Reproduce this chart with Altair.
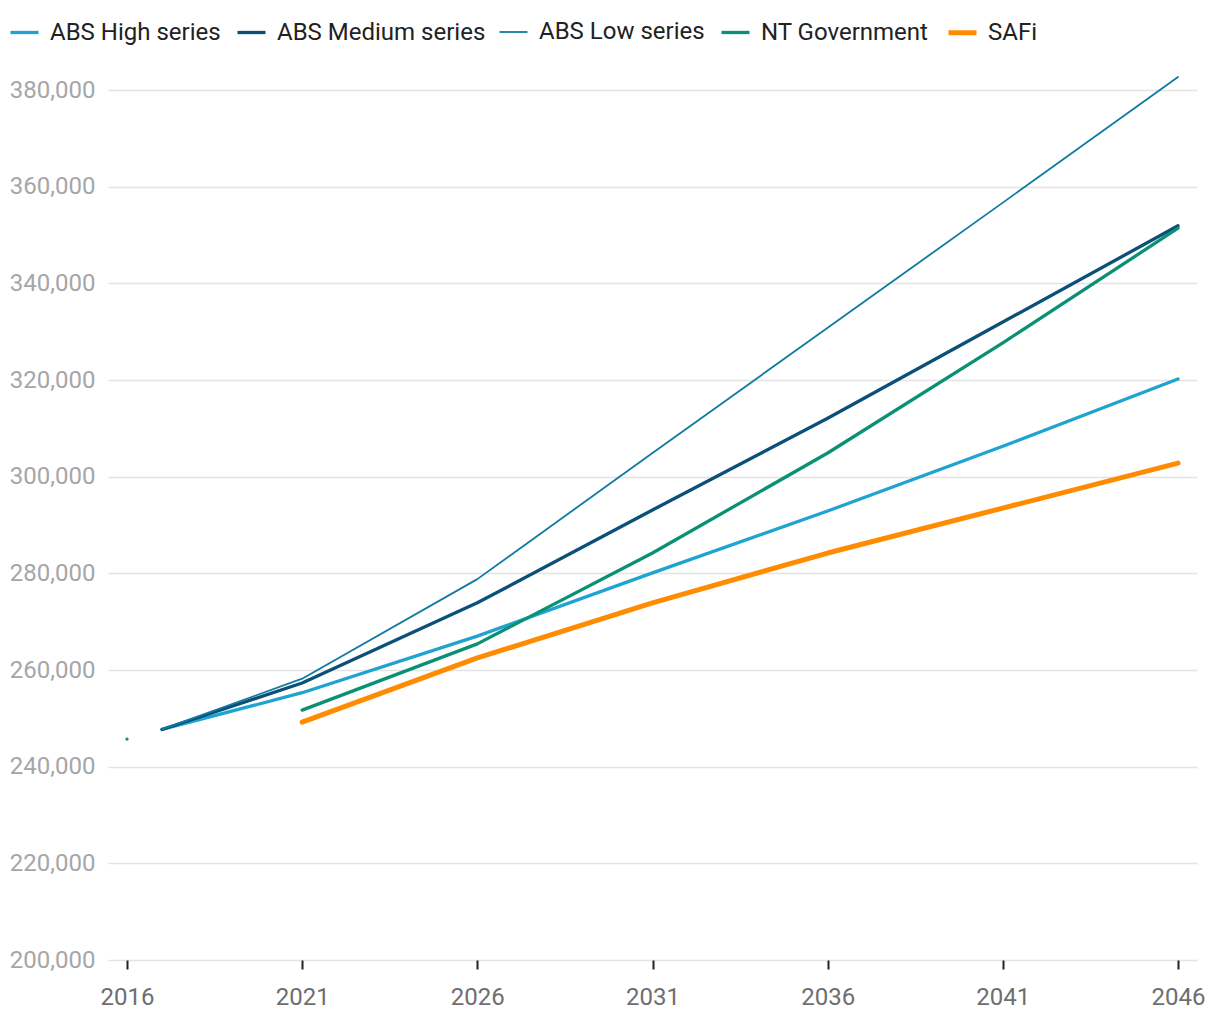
import altair as alt
import pandas as pd

series_names = ["ABS High series", "ABS Medium series", "ABS Low series", "NT Government", "SAFi"]
series_colors = ["#1ea3d2", "#0b5078", "#107aa3", "#0a9174", "#ff8c00"]
series_widths = [3.3, 3.3, 1.8, 3.3, 5]

abs_years = [2017, 2021, 2026, 2031, 2036, 2041, 2046]
abs_high = [247700, 255300, 267000, 280100, 292900, 306300, 320200]
abs_medium = [247700, 257300, 273900, 293100, 312100, 332000, 351900]
abs_low = [247700, 258200, 278800, 304900, 330800, 356700, 382700]

nt_years = [2016, 2021, 2026, 2031, 2036, 2041, 2046]
nt_values = [245700, 251700, 265400, 284200, 304900, 327700, 351400]
nt_segments = [0, 1, 1, 1, 1, 1, 1]

safi_years = [2021, 2026, 2031, 2036, 2041, 2046]
safi_values = [249200, 262500, 273900, 284200, 293500, 302800]

x_ticks = [2016, 2021, 2026, 2031, 2036, 2041, 2046]
y_ticks = [200000, 220000, 240000, 260000, 280000, 300000, 320000, 340000, 360000, 380000]

rows = []
for name, yrs, vals, segs in [
    ("ABS High series", abs_years, abs_high, [0] * len(abs_years)),
    ("ABS Medium series", abs_years, abs_medium, [0] * len(abs_years)),
    ("ABS Low series", abs_years, abs_low, [0] * len(abs_years)),
    ("NT Government", nt_years, nt_values, nt_segments),
    ("SAFi", safi_years, safi_values, [0] * len(safi_years)),
]:
    for yr, v, s in zip(yrs, vals, segs):
        rows.append({"series": name, "year": yr, "value": v, "seg": f"{name}-{s}",
                     "order": series_names.index(name)})
df = pd.DataFrame(rows)

legend_kw = dict(title=None, orient="none", direction="horizontal",
                 columns=5, legendX=-100, legendY=-74,
                 symbolType="stroke", symbolSize=784,
                 labelFontSize=24, labelColor="#222222", labelLimit=400,
                 labelFont="Roboto", labelOffset=9,
                 columnPadding=9, padding=0)

chart = alt.Chart(df).mark_line(strokeCap="round", strokeJoin="round").encode(
    x=alt.X("year:Q",
            scale=alt.Scale(domain=[2015.458, 2046.542], nice=False, zero=False),
            axis=alt.Axis(values=x_ticks, format="d", title=None, grid=False, domain=False,
                          ticks=True, tickSize=9, tickWidth=2, tickColor="#222222",
                          labelFontSize=24, labelColor="#6e6e6e", labelPadding=16,
                          labelFont="Roboto")),
    y=alt.Y("value:Q",
            scale=alt.Scale(domain=[200000, 380000], nice=False, zero=False),
            axis=alt.Axis(values=y_ticks, format=",.0f", title=None, grid=True,
                          gridColor="#e3e3e3", gridWidth=1.5, domain=False, ticks=False,
                          labelFontSize=24, labelColor="#a6a6a6", labelPadding=13,
                          labelFont="Roboto")),
    color=alt.Color("series:N",
                    scale=alt.Scale(domain=series_names, range=series_colors),
                    legend=alt.Legend(**legend_kw)),
    strokeWidth=alt.StrokeWidth("series:N",
                                scale=alt.Scale(type="ordinal", domain=series_names,
                                                range=series_widths),
                                legend=alt.Legend(**legend_kw)),
    detail="seg:N",
    order="order:Q",
).properties(
    width=1089,
    height=870,
    autosize=alt.AutoSizeParams(type="none"),
    padding={"left": 100, "top": 82, "right": 15, "bottom": 50},
).configure(font="Roboto").configure_view(stroke=None)

chart.save("out.html", embed_options={"renderer": "svg", "actions": False})
